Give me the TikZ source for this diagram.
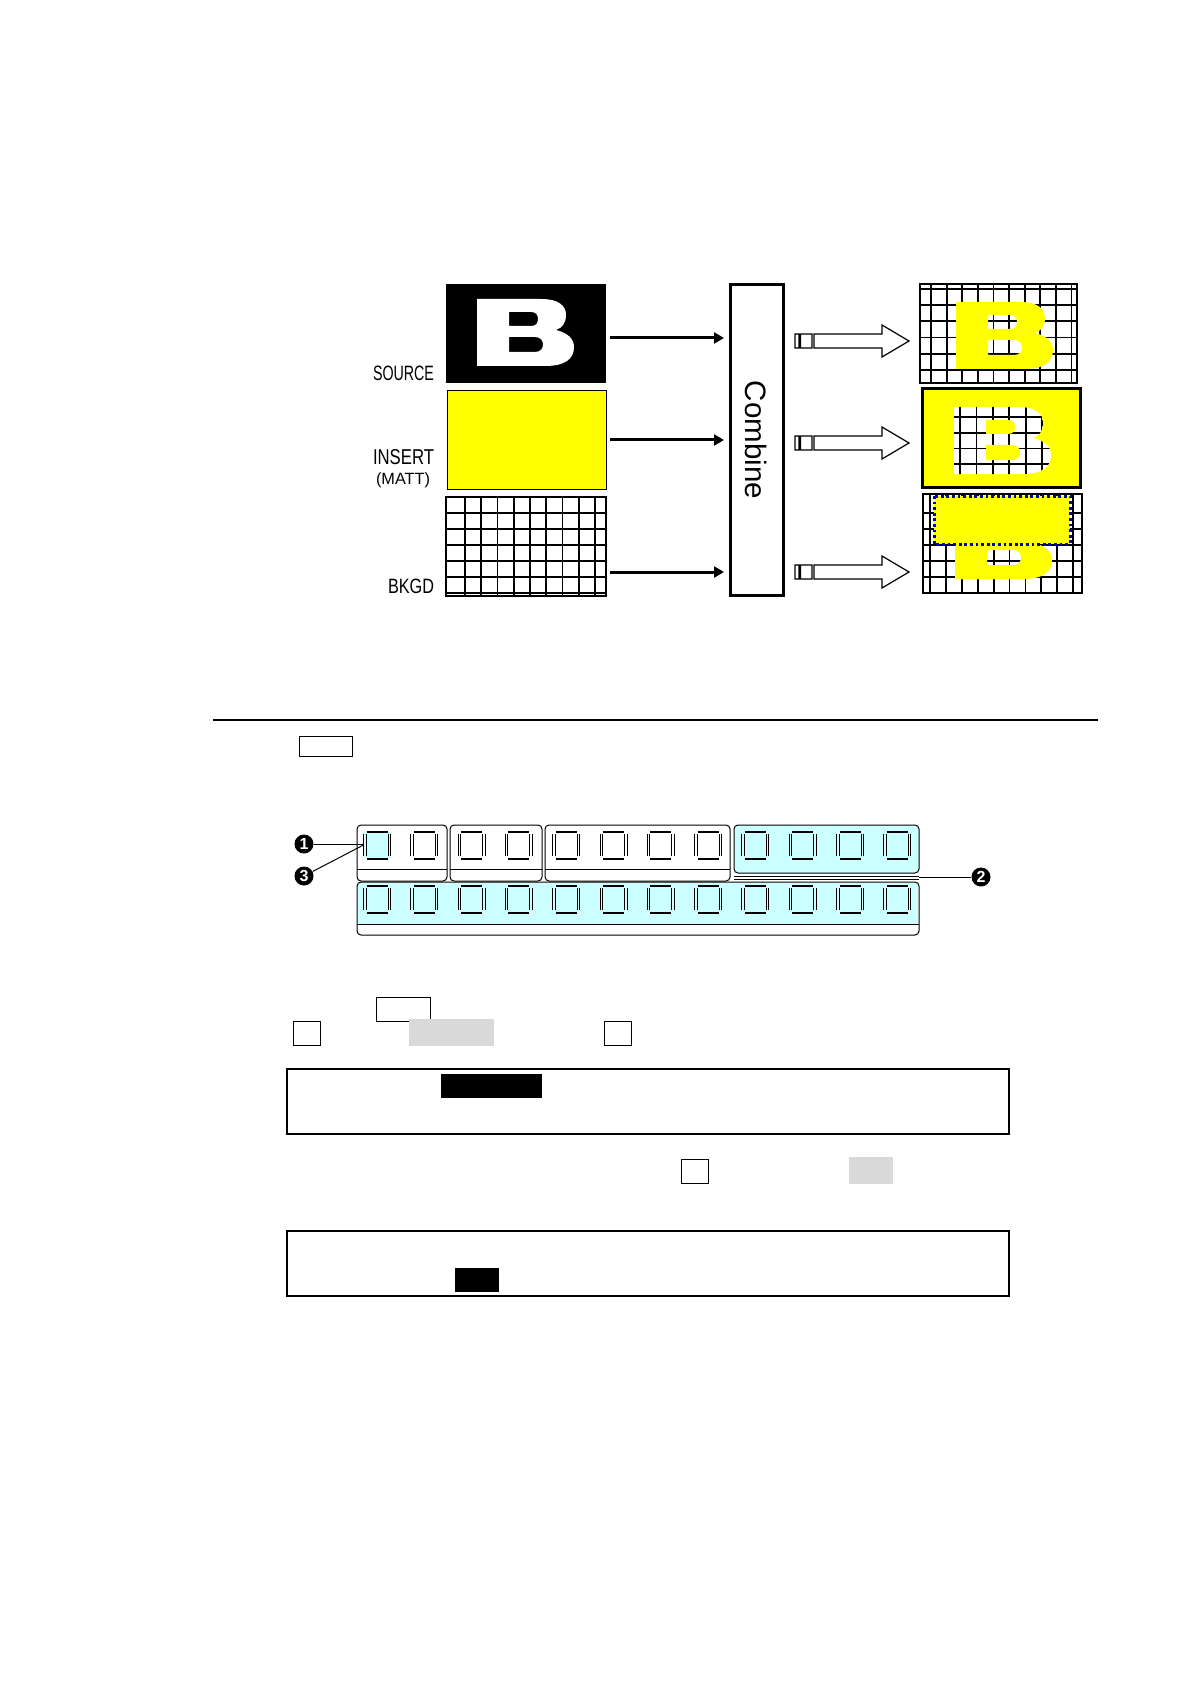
\documentclass[tikz,border=0pt]{standalone}
\usepackage{fontspec}
\usepackage{graphicx}
\setmainfont{Liberation Sans}
\usetikzlibrary{arrows.meta,calc}
\definecolor{ylw}{RGB}{255,255,0}
\definecolor{cyanbg}{RGB}{204,255,255}
\definecolor{grayfill}{RGB}{217,217,217}
\definecolor{dotblue}{RGB}{0,0,204}
\newcommand{\Bpath}{(0,0) -- (64,0) .. controls (82,0) and (89,7) .. (89,16) .. controls (89,24) and (85,29) .. (79,31) .. controls (91,34) and (97,40) .. (97,48) .. controls (97,60) and (88,67) .. (68,67) -- (0,67) -- cycle}
\newcommand{\Bholes}{(32,13) -- (54,13) .. controls (59,13) and (61,16) .. (61,20) .. controls (61,24) and (59,27) .. (54,27) -- (32,27) -- cycle (32,38) -- (58,38) .. controls (64,38) and (66,42) .. (66,45.5) .. controls (66,49) and (64,53) .. (58,53) -- (32,53) -- cycle}
\newcommand{\keycap}[2]{%
 \draw[line width=1pt] ({#1-10.5},{#2-13.5}) -- ({#1+10.5},{#2-13.5}) ({#1-10.5},{#2+13.5}) -- ({#1+10.5},{#2+13.5});
 \draw[line width=0.45pt] ({#1-13.5},{#2-11}) -- ({#1-13.5},{#2+11}) ({#1-11},{#2-11}) -- ({#1-11},{#2+11}) ({#1+11},{#2-11}) -- ({#1+11},{#2+11}) ({#1+13.5},{#2-11}) -- ({#1+13.5},{#2+11});}
\newcommand{\fatarrow}[1]{\draw[fatarr, shift={(#1)}] (0,-7) rectangle (4,7) (5.5,-7) rectangle (17,7) (19,-7) -- (87,-7) -- (87,-16) -- (114,0) -- (87,16) -- (87,7) -- (19,7) -- cycle;}
\begin{document}
\begin{tikzpicture}[x=0.5pt,y=-0.5pt,
  gridl/.style={line width=0.9pt},
  inarrow/.style={line width=1.5pt,-{Triangle[length=5pt,width=5.5pt]}},
  fatarr/.style={line width=0.6pt,fill=white},
  box/.style={inner sep=0pt,outer sep=0pt},
  grp/.style={draw,line width=0.5pt,rounded corners=2pt},
  callout/.style={circle,fill=black,text=white,inner sep=0pt,minimum size=9.5pt,font=\fontsize{8pt}{8pt}\selectfont\bfseries},
  thinbox/.style={draw,line width=0.5pt},
  bigbox/.style={draw,line width=0.7pt}]
\useasboundingbox (0,0) rectangle (1191,1684);
\fill[white] (0,0) rectangle (1191,1684);

% ---------- inputs ----------
\node[box,fill=black,minimum width=80pt,minimum height=49.5pt] (src) at (526,333.5) {};
\fill[white,even odd rule,shift={(477,299)}] \Bpath \Bholes;
\node[box,draw,line width=0.5pt,fill=ylw,minimum width=79.5pt,minimum height=49pt] (ins) at (526.5,440) {};
\fill[white] (446,497) rectangle (606,596);
\foreach \i in {0,...,8} {\pgfmathsetmacro{\xx}{465+16.25*\i}\draw[gridl] (\xx,497) -- (\xx,596);}
\foreach \i in {0,...,5} {\pgfmathsetmacro{\yy}{513+16*\i}\draw[gridl] (446,\yy) -- (606,\yy);}
\node[box,draw,line width=1pt,minimum width=80pt,minimum height=49.5pt] (bkg) at (526,546.5) {};

\node[box,anchor=base east] (lsrc) at (434,381) {\resizebox{30.5pt}{7.25pt}{SOURCE}};
\node[box,anchor=base east] (lins) at (434,464) {\resizebox{30.5pt}{7.5pt}{INSERT}};
\node[box,anchor=base east] (lmatt) at (430,484) {\resizebox{27pt}{!}{(MATT)}};
\node[box,anchor=base east] (lbkg) at (434,593) {\resizebox{23pt}{7.25pt}{BKGD}};

% ---------- combine ----------
\node[box,draw,line width=1.5pt,minimum width=26.5pt,minimum height=155pt] (combine) at (756.5,440) {};
\node[rotate=-90,font=\fontsize{14.75pt}{16pt}\selectfont] (ctext) at (combine.center) {Combine};

\coordinate (a1s) at ($(src.east)+(4,4.5)$);
\coordinate (a1e) at ($(combine.west|-a1s)+(-6,0)$);
\coordinate (a2s) at ($(ins.east)+(4,0)$);
\coordinate (a2e) at ($(combine.west|-a2s)+(-6,0)$);
\coordinate (a3s) at ($(bkg.east)+(4,25.5)$);
\coordinate (a3e) at ($(combine.west|-a3s)+(-6,0)$);
\draw[inarrow] (a1s) -- (a1e);
\draw[inarrow] (a2s) -- (a2e);
\draw[inarrow] (a3s) -- (a3e);

\coordinate (fa1) at ($(combine.east)+(12,-99)$);
\coordinate (fa2) at ($(combine.east)+(12,3)$);
\coordinate (fa3) at ($(combine.east)+(12,132)$);
\fatarrow{fa1}
\fatarrow{fa2}
\fatarrow{fa3}

% ---------- output 1 ----------
\fill[white] (920,284) rectangle (1077,383);
\foreach \i in {0,...,9} {\pgfmathsetmacro{\xx}{931+15.6*\i}\draw[gridl] (\xx,284) -- (\xx,383);}
\foreach \i in {0,...,5} {\pgfmathsetmacro{\yy}{289+16.2*\i}\draw[gridl] (920,\yy) -- (1077,\yy);}
\fill[ylw,even odd rule,shift={(956,302)}] \Bpath \Bholes;
\node[box,draw,line width=1pt,minimum width=78.5pt,minimum height=49.5pt] (o1) at (998.5,333.5) {};

% ---------- output 2 ----------
\fill[ylw] (922,389) rectangle (1080,487);
\begin{scope}
\clip[shift={(954,407)}] \Bpath;
\fill[white] (922,389) rectangle (1080,487);
\foreach \i in {0,...,5} {\pgfmathsetmacro{\xx}{960+16.4*\i}\draw[gridl] (\xx,389) -- (\xx,487);}
\foreach \i in {0,...,3} {\pgfmathsetmacro{\yy}{417+15.7*\i}\draw[gridl] (922,\yy) -- (1080,\yy);}
\end{scope}
\fill[ylw,shift={(954,407)}] \Bholes;
\node[box,draw,line width=1.5pt,minimum width=79pt,minimum height=49pt] (o2) at (1001,438) {};

% ---------- output 3 ----------
\fill[white] (923,494) rectangle (1082,593);
\foreach \i in {0,...,9} {\pgfmathsetmacro{\xx}{930+15.9*\i}\draw[gridl] (\xx,494) -- (\xx,593);}
\foreach \i in {0,...,4} {\pgfmathsetmacro{\yy}{513+16*\i}\draw[gridl] (923,\yy) -- (1082,\yy);}
\fill[ylw,even odd rule,shift={(955,512)}] \Bpath \Bholes;
\fill[ylw] (934,496) rectangle (1070,544);
\draw[dotblue,line width=1.5pt,dash pattern=on 1.4pt off 1.4pt] (934,496) rectangle (1070,544);
\node[box,draw,line width=1pt,minimum width=79.5pt,minimum height=49.5pt] (o3) at (1002.5,543.5) {};

% ---------- rule and small box ----------
\draw[line width=1.1pt] (213,720) -- (1098,720);
\node[box,thinbox,minimum width=26.5pt,minimum height=10pt] (t0) at (325.5,746) {};

% ---------- button panel ----------
\draw[grp] (357,825) rectangle (447,881); \draw[line width=0.5pt] (357,869) -- (447,869);
\draw[grp] (450,825) rectangle (542,881); \draw[line width=0.5pt] (450,869) -- (542,869);
\draw[grp] (545,825) rectangle (730,881); \draw[line width=0.5pt] (545,869) -- (730,869);
\draw[grp,fill=cyanbg] (734,825) rectangle (919,873);
\draw[line width=0.5pt] (734,876) -- (919,876) (734,879) -- (919,879);
\coordinate (g4end) at (919,877);
\fill[cyanbg] (358,883) rectangle (918,924);
\draw[grp] (357,882) rectangle (919,935);
\draw[line width=0.5pt] (357,924) -- (919,924);
\fill[cyanbg] (363,832) rectangle (391,858);
\foreach \i in {0,...,11} {\pgfmathsetmacro{\cx}{377+47.3*\i}\keycap{\cx}{845}\keycap{\cx}{899}}
\node[box,minimum size=13.5pt] (k1) at (377,845) {};

\node[callout] (c1) at (304,844) {1};
\node[callout] (c3) at (304,876) {3};
\node[callout] (c2) at (981,877) {2};
\draw[line width=0.5pt] (c1.east) -- (c1.east -| k1.west);
\draw[line width=0.5pt] (c3) -- (k1.west);
\draw[line width=0.5pt] (g4end) -- (c2);

% ---------- lower boxes ----------
\draw[thinbox] (376,997) rectangle (430,1021);
\draw[thinbox] (293,1021) rectangle (320,1045);
\fill[grayfill] (409,1019) rectangle (494,1046);
\draw[thinbox] (604,1021) rectangle (631,1045);
\draw[bigbox] (287,1069) rectangle (1009,1134);
\fill[black] (441,1074) rectangle (542,1098);
\draw[thinbox] (681,1159) rectangle (708,1183);
\fill[grayfill] (849,1157) rectangle (893,1184);
\draw[bigbox] (287,1231) rectangle (1009,1296);
\fill[black] (455,1268) rectangle (499,1292);
\end{tikzpicture}
\end{document}
